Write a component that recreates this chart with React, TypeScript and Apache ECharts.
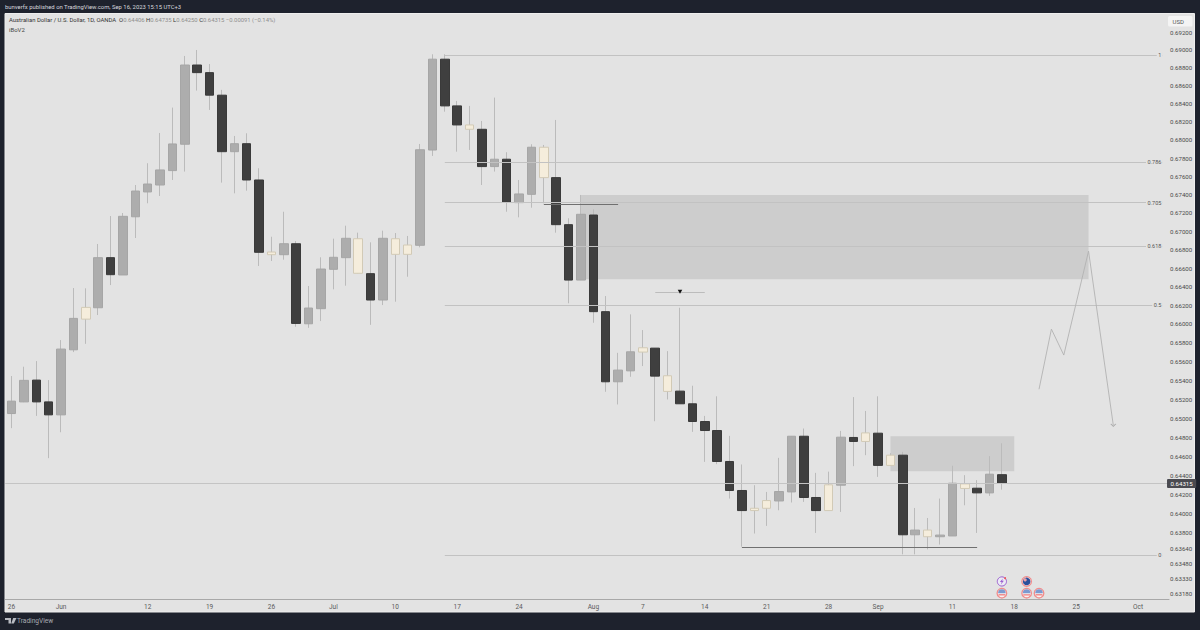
import React, { useEffect, useRef } from "react";
import * as echarts from "echarts";

const dates = [
  "05-26","05-29","05-30","05-31","06-01","06-02","06-05","06-06","06-07","06-08","06-09",
  "06-12","06-13","06-14","06-15","06-16","06-19","06-20","06-21","06-22","06-23",
  "06-26","06-27","06-28","06-29","06-30","07-03","07-04","07-05","07-06","07-07",
  "07-10","07-11","07-12","07-13","07-14","07-17","07-18","07-19","07-20","07-21",
  "07-24","07-25","07-26","07-27","07-28","07-31","08-01","08-02","08-03","08-04",
  "08-07","08-08","08-09","08-10","08-11","08-14","08-15","08-16","08-17","08-18",
  "08-21","08-22","08-23","08-24","08-25","08-28","08-29","08-30","08-31","09-01",
  "09-04","09-05","09-06","09-07","09-08","09-11","09-12","09-13","09-14","09-15",
  "09-18","09-19","09-20","09-21","09-22","09-25","09-26","09-27","09-28","09-29",
  "10-02","10-03","10-04",
];
const dateLabels: Record<string, string> = {
  "05-26":"26","06-01":"Jun","06-12":"12","06-19":"19","06-26":"26","07-03":"Jul","07-10":"10",
  "07-17":"17","07-24":"24","08-01":"Aug","08-07":"7","08-14":"14","08-21":"21","08-28":"28",
  "09-01":"Sep","09-11":"11","09-18":"18","09-25":"25","10-02":"Oct",
};

const opens = [
  .65048,.65171,.65402,.65171,.65034,.65724,.66052,.66174,.66714,.66527,.67158,.67429,.67505,.67663,.67953,.68832,
  .68747,.68496,.67871,.67959,.6756,.66775,.66746,.66865,.66002,.66164,.66588,.66714,.66919,.66541,.66257,.66919,
  .6675,.66848,.67889,.68897,.68377,.68166,.68118,.67707,.67788,.67312,.67403,.6792,.67586,.67072,.66472,.67177,
  .66132,.65384,.655,.657,.65742,.65448,.65285,.65151,.64964,.64869,.64544,.64241,.64032,.64056,.64132,.64226,
  .64809,.64168,.64032,.64296,.64796,.64754,.64841,.64503,.6461,.63781,.6383,.63761,.63769,.6431,.64265,.64216,.64406,
];
const closes = [
  .65179,.65399,.65171,.65034,.65732,.6606,.66178,.66714,.6653,.67163,.67439,.67516,.6767,.67956,.68832,.68747,
  .68496,.67871,.67959,.6756,.66772,.66746,.66865,.66006,.66171,.66591,.66718,.66924,.66545,.66257,.66924,.6675,
  .66851,.67892,.68897,.68377,.68166,.68118,.67707,.67788,.67316,.67407,.6792,.67586,.67072,.66472,.67185,.66132,
  .65384,.65508,.65703,.65746,.65444,.65282,.65151,.64964,.64869,.64544,.64241,.64032,.64056,.64136,.6423,.64809,
  .64168,.64032,.643,.64799,.64754,.64844,.64503,.6461,.63781,.6383,.63761,.63778,.64317,.64262,.64216,.64411,.64315,
];
const lows = [
  .64894,.65168,.65023,.64579,.64851,.657,.65788,.66096,.66418,.66527,.66927,.67305,.67385,.6756,.67652,.68547,
  .68332,.67531,.67414,.67443,.66624,.66678,.66692,.6597,.65959,.66031,.66372,.66411,.66545,.65991,.66203,.66239,
  .66508,.66826,.67824,.68313,.67871,.6789,.67505,.67652,.67213,.67152,.67257,.67305,.66985,.66222,.66472,.66013,
  .65278,.65144,.65437,.65551,.64967,.65197,.65151,.64855,.6454,.64516,.64157,.63658,.63794,.63873,.64035,.64116,
  .64122,.638,.64032,.64018,.64495,.6461,.64383,.64503,.63579,.63579,.6363,.6368,.63769,.64087,.638,.64185,.6425,
];
const highs = [
  .65445,.65544,.65604,.65402,.65828,.66386,.66383,.66862,.67166,.67199,.67505,.67744,.68077,.68358,.68933,.69,
  .68843,.68555,.68044,.68074,.67689,.66941,.67213,.66894,.66408,.66718,.6692,.67061,.66985,.6688,.67007,.66981,
  .66949,.67956,.68952,.68952,.68432,.68377,.6821,.68469,.67865,.6756,.67953,.67945,.68221,.67142,.67396,.6724,
  .663,.65692,.66103,.65935,.65742,.6571,.66174,.65342,.65023,.6523,.64813,.64513,.64296,.64226,.64582,.64809,
  .6489,.64425,.64438,.64865,.65222,.65075,.6523,.64631,.64645,.64059,.63955,.64157,.64499,.64401,.64349,.646,.64735,
];
const creamCandles = [6,21,28,31,32,37,43,51,53,60,61,66,69,71,74,77];

const priceTicks = [
  .692,.69,.688,.686,.684,.682,.68,.678,.676,.674,.672,.67,.668,.666,.664,.662,.66,.658,.656,.654,.652,.65,
  .648,.646,.644,.642,.64,.638,.6364,.6348,.6333,.6318,
];
const lastPrice = 0.64315;
const fibLabels = ["1","0.786","0.705","0.618","0.5","0"];
const fibPrices = [.68944,.67758,.67313,.6684,.66203,.63572];
const fibStart = 35;
const fibEnd = 93;
const supplyZone = { from: 46, to: 87, top: .67396, bottom: .6648 };
const retestZone = { from: 71, to: 81, top: .64809, bottom: .64443 };
const structureLines = [
  { from: 43, to: 49, price: .67297 },
  { from: 59, to: 78, price: .63652 },
];
const chochLine = { from: 52, to: 54, end: 56, price: .66346 };
const pathX = [83, 84, 85, 87, 89];
const pathPrices = [.65305, .65945, .65668, .66785, .64925];
const eventX = [80, 82, 80, 82, 83];
const eventPrices = [.633, .633, .6318, .6318, .6318];
const eventKinds = ["flash", "au", "us", "us", "us"];

const PANEL = "#e3e3e3";
const DARK = "#1e222d";
const UP = "#adadad";
const DOWN = "#3f3f3f";
const CREAM = "#f5eddc";
const WICK = "#bbbbbb";
const FONT = "Roboto,'Open Sans',sans-serif";

function renderEvent(_: any, api: any) {
  const [x, y] = api.coord([api.value(0), api.value(1)]);
  const kind = eventKinds[api.value(2)];
  const kids: any[] = [];
  if (kind === "flash") {
    kids.push({ type: "circle", shape: { cx: x, cy: y, r: 4.6 }, style: { fill: "#ecebf5", stroke: "#9c5fd0", lineWidth: 1 } });
    kids.push({ type: "polygon", shape: { points: [[x + 1, y - 3], [x - 2, y + .5], [x - .2, y + .5], [x - 1, y + 3], [x + 2, y - .6], [x + .2, y - .6]] }, style: { fill: "#9c5fd0" } });
    kids.push({ type: "circle", shape: { cx: x + 3.2, cy: y - 3.2, r: 1 }, style: { fill: "#ef5a5a" } });
  } else {
    kids.push({ type: "circle", shape: { cx: x, cy: y, r: 4.8 }, style: { fill: "#f7f3f3", stroke: "#f08c8c", lineWidth: 1.3 } });
    if (kind === "au") {
      kids.push({ type: "circle", shape: { cx: x, cy: y, r: 3.8 }, style: { fill: "#2b4f9b" } });
      kids.push({ type: "circle", shape: { cx: x - 1.5, cy: y - 1.5, r: 1.6 }, style: { fill: "#e9a0a8" } });
    } else {
      kids.push({ type: "sector", shape: { cx: x, cy: y, r: 3.8, r0: 0, startAngle: Math.PI, endAngle: Math.PI * 2 }, style: { fill: "#7c9ad0" } });
      kids.push({ type: "rect", shape: { x: x - 3.4, y: y + 1, width: 6.8, height: 1.3 }, style: { fill: "#ef7d7d" } });
    }
  }
  return { type: "group", children: kids };
}

export default function App() {
  const ref = useRef<HTMLDivElement>(null);
  useEffect(() => {
    document.body.style.margin = "0";
    const chart = echarts.init(ref.current!, null, { renderer: "svg" });
    const hLine = (from: number, to: number, price: number) => [{ xAxis: from, yAxis: price }, { xAxis: to, yAxis: price }];
    const option: any = {
      animation: false,
      backgroundColor: DARK,
      textStyle: { fontFamily: FONT },
      grid: { left: 5.3, top: 14, bottom: 31, width: 94 * 12.38, containLabel: false },
      tooltip: { show: false },
      xAxis: {
        type: "category",
        data: dates,
        boundaryGap: true,
        axisTick: { show: false },
        axisLine: { lineStyle: { color: "#a8a8a8", width: 1 } },
        splitLine: { show: false },
        axisLabel: {
          interval: (_: number, v: string) => v in dateLabels,
          formatter: (v: string) => dateLabels[v] ?? "",
          color: "#5a5a5a",
          fontSize: 6.5,
          margin: 4,
          fontFamily: FONT,
        },
      },
      yAxis: {
        type: "log",
        logBase: 10,
        position: "right",
        min: 0.6312,
        max: 0.69404,
        axisLine: { show: false },
        axisTick: { show: false },
        splitLine: { show: false },
        axisLabel: {
          show: true,
          customValues: priceTicks,
          formatter: (v: number) => v.toFixed(5),
          color: "#4a4a4a",
          fontSize: 6.1,
          margin: 1,
          fontFamily: FONT,
        },
      },
      series: [
        {
          name: "Zones",
          type: "line",
          data: [],
          z: 1,
          markArea: {
            silent: true,
            itemStyle: { color: "#cdcdcd" },
            data: [
              [{ xAxis: supplyZone.from, yAxis: supplyZone.top }, { xAxis: supplyZone.to, yAxis: supplyZone.bottom }],
              [{ xAxis: retestZone.from, yAxis: retestZone.top }, { xAxis: retestZone.to, yAxis: retestZone.bottom }],
            ],
          },
        },
        {
          name: "Levels",
          type: "line",
          data: [],
          z: 2,
          markLine: {
            silent: true,
            symbol: "none",
            precision: 5,
            lineStyle: { color: "#c2c2c2", width: 1, type: "solid" },
            data: fibPrices.map((p, i) => {
              const [a, b] = hLine(fibStart, fibEnd, p);
              return [
                {
                  ...a,
                  label: {
                    show: true,
                    formatter: fibLabels[i],
                    position: "insideEnd",
                    distance: 0,
                    fontSize: 5.5,
                    color: "#555",
                    fontFamily: FONT,
                    backgroundColor: PANEL,
                    padding: [0, 1.5],
                  },
                },
                b,
              ];
            }),
          },
        },
        {
          name: "Wicks",
          type: "candlestick",
          z: 3,
          barWidth: 1,
          data: opens.map((o, i) => [o, closes[i], lows[i], highs[i]]),
          itemStyle: { color: WICK, color0: WICK, borderColor: WICK, borderColor0: WICK, borderWidth: 1 },
        },
        {
          name: "Bodies",
          type: "candlestick",
          z: 4,
          barWidth: 9,
          data: opens.map((o, i) => {
            const c = closes[i];
            const value = [o, c, Math.min(o, c), Math.max(o, c)];
            return creamCandles.includes(i)
              ? { value, itemStyle: { color: CREAM, color0: CREAM, borderColor: "#d2cab6", borderColor0: "#d2cab6" } }
              : value;
          }),
          itemStyle: { color: UP, color0: DOWN, borderColor: "#a6a6a6", borderColor0: "#3a3a3a", borderWidth: 1 },
        },
        {
          name: "Structure",
          type: "line",
          data: [],
          z: 5,
          markLine: {
            silent: true,
            symbol: "none",
            precision: 5,
            label: { show: false },
            lineStyle: { color: "#707070", width: 1, type: "solid" },
            data: [
              ...structureLines.map((l) => hLine(l.from, l.to, l.price)),
              [{ ...hLine(chochLine.from, chochLine.end, chochLine.price)[0], lineStyle: { color: "#bcbcbc", width: 1 } },
               hLine(chochLine.from, chochLine.end, chochLine.price)[1]],
            ],
          },
          markPoint: {
            silent: true,
            symbol: "triangle",
            symbolRotate: 180,
            symbolSize: [4.5, 4],
            itemStyle: { color: "#111" },
            label: { show: false },
            data: [{ xAxis: chochLine.to, yAxis: chochLine.price }],
          },
        },
        {
          name: "Last price",
          type: "line",
          data: [],
          z: 6,
          markLine: {
            silent: true,
            symbol: "none",
            precision: 5,
            lineStyle: { color: "#c4c4c4", width: 1, type: "solid" },
            data: [{
              yAxis: lastPrice,
              label: {
                show: true,
                position: "end",
                distance: -2,
                formatter: lastPrice.toFixed(5),
                color: "#fff",
                backgroundColor: "#4a4a50",
                padding: [1.5, 3.5],
                borderRadius: 1,
                fontSize: 6.1,
                fontFamily: FONT,
              },
            }],
          },
        },
        {
          name: "Projection",
          type: "line",
          z: 7,
          symbol: "none",
          lineStyle: { color: "#b2b2b2", width: .9 },
          data: pathX.map((x, i) => [x, pathPrices[i]]),
          markPoint: {
            silent: true,
            symbol: "path://M0 0 L5 6 L10 0",
            symbolSize: [5, 2.5],
            symbolOffset: [0, 0],
            itemStyle: { color: "transparent", borderColor: "#a8a8a8", borderWidth: .8 },
            label: { show: false },
            data: [{ xAxis: pathX[4], yAxis: pathPrices[4] }],
          },
        },
        {
          name: "Events",
          type: "custom",
          z: 8,
          renderItem: renderEvent,
          data: eventX.map((x, i) => [x, eventPrices[i], i]),
          encode: { x: 0, y: 1 },
        },
      ],
      graphic: [
        { type: "rect", z: -10, silent: true, shape: { x: 5, y: 13.5, width: 1189.5, height: 598.5 }, style: { fill: PANEL, stroke: "#eeeeee", lineWidth: 1 } },
        { type: "text", x: 5, y: 3.5, style: { text: "bunverfx published on TradingView.com, Sep 16, 2023 15:15 UTC+3", fill: "#d6d8de", fontSize: 5.9, fontFamily: FONT } },
        {
          type: "text", x: 9, y: 17, z: 10,
          style: {
            text: "{d|Australian Dollar / U.S. Dollar, 1D, OANDA}  {d|O}{v|0.64406} {d|H}{v|0.64735} {d|L}{v|0.64250} {d|C}{v|0.64315} {v|−0.00091 (−0.14%)}",
            fontSize: 5.9, fontFamily: FONT,
            rich: { d: { fill: "#333", fontSize: 5.9, fontFamily: FONT }, v: { fill: "#8f8f8f", fontSize: 5.9, fontFamily: FONT } },
          },
        },
        { type: "text", x: 9, y: 26, z: 10, style: { text: "iBoV2", fill: "#444", fontSize: 6, fontFamily: FONT } },
        { type: "rect", z: 10, shape: { x: 1168, y: 16, width: 24.5, height: 10.5, r: 1.5 }, style: { fill: "#f4f4f4" } },
        { type: "text", z: 11, x: 1172.5, y: 18, style: { text: "USD", fill: "#555", fontSize: 6, fontFamily: FONT } },
        { type: "polygon", shape: { points: [[5, 618], [11, 618], [11, 623.5], [8.5, 623.5], [8.5, 620], [5, 620]] }, style: { fill: "#b8bbc2" } },
        { type: "polygon", shape: { points: [[13.2, 618], [16.5, 618], [13.8, 623.5], [11.2, 623.5]] }, style: { fill: "#b8bbc2" } },
        { type: "text", x: 17, y: 617, style: { text: "TradingView", fill: "#a8abb3", fontSize: 6.6, fontFamily: FONT } },
      ],
    };
    chart.setOption(option);
    return () => chart.dispose();
  }, []);
  return <div ref={ref} style={{ position: "fixed", left: 0, top: 0, width: 1200, height: 630 }} />;
}
